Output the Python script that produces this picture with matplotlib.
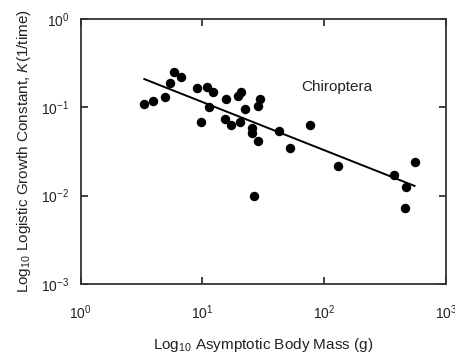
import numpy as np
import matplotlib
matplotlib.use('Agg')
import matplotlib.pyplot as plt

plt.rcParams['font.family'] = ['Liberation Sans', 'DejaVu Sans']
plt.rcParams['mathtext.fontset'] = 'custom'
plt.rcParams['mathtext.rm'] = 'Liberation Sans'
plt.rcParams['mathtext.it'] = 'Liberation Sans:italic'
plt.rcParams['mathtext.default'] = 'regular'

# --- Data (Chiroptera) ---
mass = [3.33, 3.91, 4.93, 5.42, 5.80, 6.65, 9.01, 10.8, 12.3, 11.4, 9.77,
        15.5, 19.5, 20.8, 22.2, 28.6, 29.6, 15.2, 17.1, 20.3, 25.4, 25.4,
        28.7, 42.2, 76.6, 52.0, 131, 377, 471, 562, 26.4, 465]
growth_k = [0.109, 0.119, 0.132, 0.187, 0.249, 0.222, 0.167, 0.170, 0.150,
            0.100, 0.0687, 0.123, 0.135, 0.150, 0.0949, 0.103, 0.123, 0.074,
            0.063, 0.0687, 0.0578, 0.0512, 0.0412, 0.0535, 0.063, 0.0346,
            0.0218, 0.0171, 0.0124, 0.0242, 0.00998, 0.00718]

# regression line end points
line_mass = [3.33, 552]
line_k = [0.209, 0.0129]

fig = plt.figure(figsize=(4.56, 3.59), dpi=100)
ax = fig.add_axes([0.177, 0.209, 0.801, 0.738])

ax.plot(mass, growth_k, 'o', color='black', markersize=6.8, markeredgewidth=0)
ax.plot(line_mass, line_k, '-', color='black', linewidth=1.4)

ax.set_xscale('log')
ax.set_yscale('log')
ax.set_xlim(1, 1000)
ax.set_ylim(1e-3, 1)
ax.minorticks_off()

ax.tick_params(which='major', direction='in', length=5, width=1.2,
               top=True, right=True, labelsize=10, colors='#222222', pad=14)
ax.tick_params(axis='y', pad=8)
for s in ax.spines.values():
    s.set_linewidth(1.3)
    s.set_color('#333333')

ax.text(0.70, 0.743, 'Chiroptera', transform=ax.transAxes, fontsize=11,
        ha='center', va='center', color='#222222')

ax.set_xlabel('Log$_{10}$ Asymptotic Body Mass (g)', fontsize=11, color='#222222', labelpad=10)
ax.set_ylabel('Log$_{10}$ Logistic Growth Constant, $\\mathit{K}$(1/time)', fontsize=11,
              color='#222222', labelpad=6)

plt.savefig('out.png', dpi=100)
